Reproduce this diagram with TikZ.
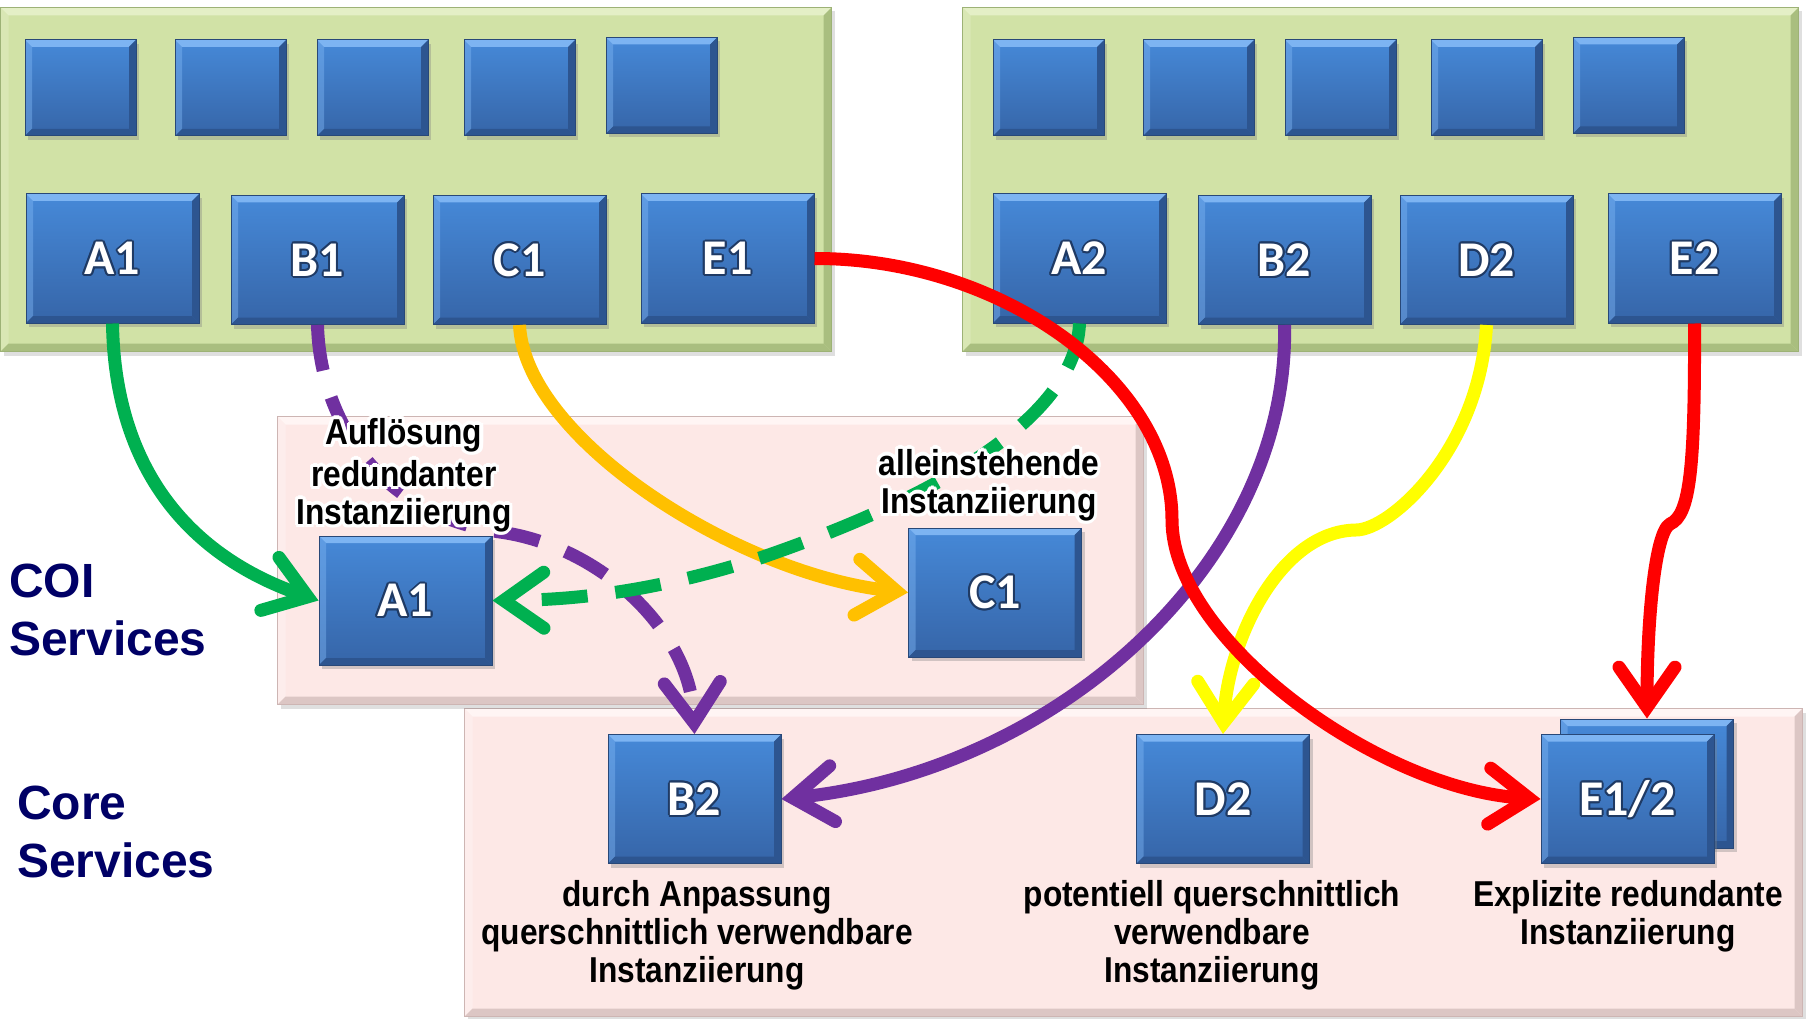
\documentclass[tikz,border=0pt]{standalone}
\usepackage{fontspec}
\setmainfont{Liberation Sans}
\newfontfamily\narrowfont{Liberation Sans}[FakeStretch=0.88]
\newfontfamily\boxfont{Carlito}
\usetikzlibrary{arrows.meta,shadows}

\definecolor{panelgreen}{HTML}{D1E2A6}
\definecolor{panelgreenlt}{HTML}{E4EFC6}
\definecolor{panelgreendk}{HTML}{A9BE7F}
\definecolor{panelgreenln}{HTML}{9DB276}
\definecolor{panelpink}{HTML}{FDE8E6}
\definecolor{panelpinklt}{HTML}{FFF5F4}
\definecolor{panelpinkdk}{HTML}{DCC6C4}
\definecolor{panelpinkln}{HTML}{CDB5B3}
\definecolor{boxtop}{HTML}{4689D8}
\definecolor{boxbot}{HTML}{3665A8}
\definecolor{boxlt}{HTML}{7DB4F2}
\definecolor{boxdk}{HTML}{2D5590}
\definecolor{boxln}{HTML}{284878}
\definecolor{boxglow}{HTML}{1F3A64}
\definecolor{navy}{HTML}{000066}
\definecolor{lgreen}{HTML}{00B050}
\definecolor{lpurple}{HTML}{7030A0}
\definecolor{lorange}{HTML}{FFC000}
\definecolor{lyellow}{HTML}{FFFF00}
\definecolor{lred}{HTML}{FF0000}

% text with a halo made of offset copies
\newcommand\glowtext[3]{%
  \leavevmode
  \foreach \glwa in {0,30,...,330}{%
    \pgfmathsetlengthmacro\glwx{#2*cos(\glwa)}%
    \pgfmathsetlengthmacro\glwy{#2*sin(\glwa)}%
    \rlap{\kern\glwx\raise\glwy\hbox{\color{#1}#3}}}%
  #3}
\newcommand\whitehalo[1]{\glowtext{white}{3.5pt}{#1}}
\newcommand\boxlabel[1]{\glowtext{boxglow}{2pt}{#1}}

\tikzset{
  bevel/.style n args={3}{path picture={
    \fill[#2] (path picture bounding box.north west) -- (path picture bounding box.north east)
      -- ([xshift=-#1,yshift=-#1]path picture bounding box.north east)
      -- ([xshift=#1,yshift=-#1]path picture bounding box.north west) -- cycle;
    \fill[#2,opacity=0.45] (path picture bounding box.north west)
      -- ([xshift=#1,yshift=-#1]path picture bounding box.north west)
      -- ([xshift=#1,yshift=#1]path picture bounding box.south west)
      -- (path picture bounding box.south west) -- cycle;
    \fill[#3] (path picture bounding box.north east) -- (path picture bounding box.south east)
      -- ([xshift=-#1,yshift=#1]path picture bounding box.south east)
      -- ([xshift=-#1,yshift=-#1]path picture bounding box.north east) -- cycle;
    \fill[#3] (path picture bounding box.south west) -- (path picture bounding box.south east)
      -- ([xshift=-#1,yshift=#1]path picture bounding box.south east)
      -- ([xshift=#1,yshift=#1]path picture bounding box.south west) -- cycle;
  }},
  greenpanel/.style={rectangle, anchor=north west, inner sep=0pt, fill=panelgreen,
    draw=panelgreenln, line width=1pt, bevel={8pt}{panelgreenlt}{panelgreendk},
    drop shadow={shadow xshift=3pt,shadow yshift=-4pt,opacity=0.25}},
  pinkpanel/.style={rectangle, anchor=north west, inner sep=0pt, fill=panelpink,
    draw=panelpinkln, line width=1pt, bevel={8pt}{panelpinklt}{panelpinkdk},
    drop shadow={shadow xshift=3pt,shadow yshift=-4pt,opacity=0.25}},
  svc/.style={rectangle, inner sep=0pt, minimum width=173pt, minimum height=129pt,
    draw=boxln, line width=1pt, top color=boxtop, bottom color=boxbot,
    drop shadow={shadow xshift=3pt,shadow yshift=-4pt,opacity=0.35},
    bevel={7pt}{boxlt}{boxdk}, text=white,
    font=\boxfont\bfseries\fontsize{50}{52}\selectfont},
  smallsvc/.style={svc, minimum width=111pt, minimum height=96pt},
  textlbl/.style={align=center, inner sep=0pt,
    font=\narrowfont\bfseries\fontsize{36}{38}\selectfont},
  head/.style={align=left, anchor=west, inner sep=0pt, text=navy,
    font=\bfseries\fontsize{48}{58}\selectfont},
  conn/.style={line width=13pt,
    -{Straight Barb[length=40pt,width=56pt,line cap=round,line join=miter]}},
  dashconn/.style={conn, dash pattern=on 46pt off 28pt},
}

\begin{document}
\begin{tikzpicture}[x=1pt,y=-1pt]
\useasboundingbox (0,0) rectangle (1810,1019);

% panels
\node[greenpanel, minimum width=831pt, minimum height=344pt] (panelL) at (0,7) {};
\node[greenpanel, minimum width=836pt, minimum height=344pt] (panelR) at (962,7) {};
\node[pinkpanel, minimum width=1338pt, minimum height=308pt] (corep) at (464,708) {};
\node[pinkpanel, minimum width=866pt, minimum height=288pt] (coip) at (277,416) {};

% upper row of unlabeled services
\node[smallsvc] (s1) at (80.5,88) {};
\node[smallsvc] (s2) at (230.5,88) {};
\node[smallsvc] (s3) at (372.5,88) {};
\node[smallsvc] (s4) at (519.5,88) {};
\node[smallsvc] (s5) at (661.5,85.5) {};
\node[smallsvc] (t1) at (1048.5,88) {};
\node[smallsvc] (t2) at (1198.5,88) {};
\node[smallsvc] (t3) at (1340.5,88) {};
\node[smallsvc] (t4) at (1486.5,88) {};
\node[smallsvc] (t5) at (1628.5,85.5) {};

% labeled services
\node[svc] (la1) at (112.5,258.5) {\boxlabel{A1}};
\node[svc] (lb1) at (317.5,260) {\boxlabel{B1}};
\node[svc] (lc1) at (519.5,260) {\boxlabel{C1}};
\node[svc] (le1) at (727.5,258.5) {\boxlabel{E1}};
\node[svc] (ra2) at (1079.5,258.5) {\boxlabel{A2}};
\node[svc] (rb2) at (1284.5,260) {\boxlabel{B2}};
\node[svc] (rd2) at (1486.5,260) {\boxlabel{D2}};
\node[svc] (re2) at (1694.5,258.5) {\boxlabel{E2}};

% COI services
\node[svc] (ca1) at (405.5,600.5) {\boxlabel{A1}};
\node[svc] (cc1) at (995,592.5) {\boxlabel{C1}};

% core services
\node[svc] (kb2) at (694.5,799) {\boxlabel{B2}};
\node[svc] (kd2) at (1223,799) {\boxlabel{D2}};
\node[svc] (ke12b) at (1647,783.5) {};
\node[svc] (ke12) at (1627.5,799) {\boxlabel{E1/2}};

% connectors
\draw[conn, lgreen] (la1.south) .. controls (115,480) and (200,560) .. (ca1.west);
\draw[dashconn, lpurple] (lb1.south) .. controls (320,420) and (380,515) .. (500,532)
  .. controls (600,546) and (690,630) .. (kb2.north);
\draw[conn, lorange] (lc1.south) .. controls (525,440) and (740,575) .. (cc1.west);
\draw[dashconn, lgreen] (ra2.south) .. controls (1075,430) and (900,510) .. (760,558)
  .. controls (660,590) and (580,600) .. (ca1.east);
\draw[conn, lpurple] (rb2.south) .. controls (1290,560) and (1060,770) .. (kb2.east);
\draw[conn, lyellow] (rd2.south) .. controls (1480,450) and (1390,530) .. (1356,530)
  .. controls (1280,531) and (1228,640) .. (kd2.north);
\draw[conn, lred] (re2.south) .. controls (1695,470) and (1690,515) .. (1670,524)
  .. controls (1655,532) and (1647,620) .. (ke12b.north);
\draw[conn, lred] (le1.east) .. controls (1000,258) and (1172,380) .. (1172,520)
  .. controls (1172,640) and (1380,790) .. (ke12.west);

% captions
\node[textlbl] (tAufl) at (404,475) {\whitehalo{Auflösung}\\\whitehalo{redundanter}\\\whitehalo{Instanziierung}};
\node[textlbl] (tAllein) at (989,485) {\whitehalo{alleinstehende}\\\whitehalo{Instanziierung}};
\node[textlbl] (tDurch) at (697,935) {durch Anpassung\\querschnittlich verwendbare\\Instanziierung};
\node[textlbl] (tPot) at (1212,935) {potentiell querschnittlich\\verwendbare\\Instanziierung};
\node[textlbl] (tExpl) at (1628,916) {Explizite redundante\\Instanziierung};

% layer headings
\node[head] (hCoi) at (9,610) {COI\\Services};
\node[head] (hCore) at (17,832) {Core\\Services};
\end{tikzpicture}
\end{document}
